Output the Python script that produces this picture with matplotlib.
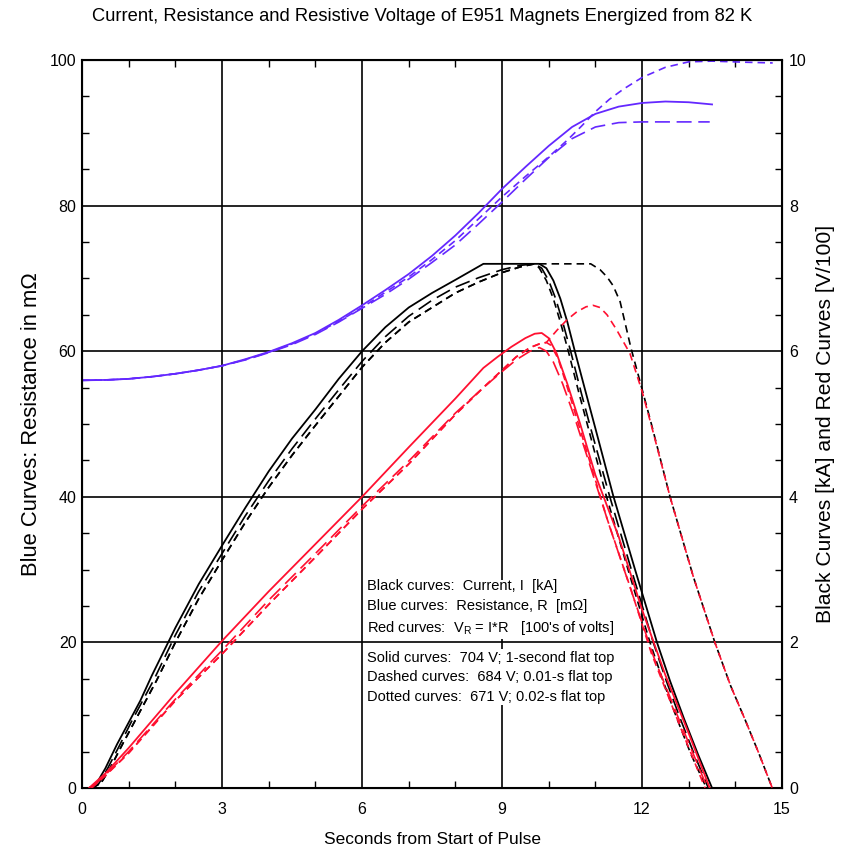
import matplotlib.pyplot as plt
from matplotlib.ticker import MultipleLocator

plt.rcParams['font.family'] = ['Liberation Sans', 'DejaVu Sans']
plt.rcParams['mathtext.fontset'] = 'custom'
plt.rcParams['mathtext.rm'] = 'Liberation Sans'

BLUE = '#6428ff'
RED = '#ff1030'

# ---- blue curves: resistance (mOhm), left axis ----
blue_solid_t = [0, 0.5, 1, 1.5, 2, 2.5, 3, 3.5, 4, 4.5, 5, 5.5, 6, 6.5, 7, 7.5, 8, 8.5, 9, 9.5,
                10, 10.5, 11, 11.5, 12, 12.5, 13, 13.5]
blue_solid_r = [56.0, 56.05, 56.2, 56.5, 56.9, 57.4, 58.0, 58.9, 59.9, 61.1, 62.5, 64.3, 66.3, 68.4,
                70.6, 73.1, 75.9, 79.0, 82.3, 85.3, 88.2, 90.8, 92.6, 93.6, 94.1, 94.3, 94.2, 93.9]

blue_dash_t = [0, 0.5, 1, 1.5, 2, 2.5, 3, 3.5, 4, 4.5, 5, 5.5, 6, 6.5, 7, 7.5, 8, 8.5, 9, 9.5,
               10, 10.5, 11, 11.5, 12, 12.5, 13, 13.45]
blue_dash_r = [56.0, 56.05, 56.2, 56.5, 56.9, 57.4, 58.0, 58.8, 59.8, 60.9, 62.3, 64.0, 65.9, 67.8,
               69.9, 72.2, 74.6, 77.5, 80.5, 83.6, 86.6, 89.2, 90.8, 91.4, 91.5, 91.5, 91.5, 91.5]

blue_dot_t = [0, 0.5, 1, 1.5, 2, 2.5, 3, 3.5, 4, 4.5, 5, 5.5, 6, 6.5, 7, 7.5, 8, 8.5, 9, 9.5,
              10, 10.4, 10.7, 11, 11.3, 11.6, 12, 12.5, 13, 13.5, 14.2, 14.8]
blue_dot_r = [56.0, 56.05, 56.2, 56.5, 56.9, 57.4, 58.0, 58.85, 59.85, 61.0, 62.4, 64.1, 66.0, 68.1,
              70.2, 72.6, 75.2, 78.2, 81.2, 84.0, 86.7, 89.0, 90.9, 92.9, 94.6, 96.0, 97.6, 99.0,
              99.75, 99.85, 99.7, 99.6]

# ---- black curves: current (kA), right axis ----
black_solid_t = [0.15, 0.3, 0.5, 0.75, 1, 1.25, 1.5, 2, 2.5, 3, 3.5, 4, 4.5, 5, 5.5, 6, 6.5, 7, 7.5,
                 8, 8.6, 9.8, 9.95, 10.1, 10.25, 10.4, 10.56, 10.8, 11.0, 11.38, 11.85, 12.32, 12.6,
                 12.9, 13.2, 13.5]
black_solid_i = [0, 0.05, 0.27, 0.6, 0.9, 1.2, 1.55, 2.2, 2.8, 3.33, 3.85, 4.35, 4.8, 5.2, 5.62, 6.0,
                 6.33, 6.6, 6.8, 6.98, 7.2, 7.2, 7.14, 6.97, 6.72, 6.4, 6.0, 5.42, 4.94, 4.02, 3.0,
                 2.0, 1.47, 0.95, 0.46, 0.0]

black_dash_t = [0.2, 0.35, 0.55, 0.8, 1.05, 1.3, 1.55, 2, 2.5, 3, 3.5, 4, 4.5, 5, 5.5, 6, 6.5, 7, 7.5,
                8, 8.5, 9, 9.4, 9.7, 9.85, 10.0, 10.15, 10.3, 10.47, 10.7, 10.9, 11.3, 11.77, 12.24,
                12.52, 12.82, 13.12, 13.42]
black_dash_i = [0, 0.05, 0.27, 0.58, 0.9, 1.2, 1.5, 2.1, 2.7, 3.22, 3.74, 4.22, 4.66, 5.07, 5.47, 5.86,
                6.2, 6.48, 6.7, 6.88, 7.01, 7.12, 7.18, 7.2, 7.14, 6.97, 6.72, 6.4, 6.0, 5.42, 4.94,
                4.02, 3.0, 2.0, 1.47, 0.95, 0.46, 0.0]

black_dot_rise_t = [0.2, 0.4, 0.6, 0.85, 1.1, 1.35, 1.6, 2, 2.5, 3, 3.5, 4, 4.5, 5, 5.5, 6, 6.5, 7,
                    7.5, 8, 8.5, 9, 9.4, 9.7]
black_dot_rise_i = [0, 0.06, 0.27, 0.58, 0.88, 1.18, 1.48, 2.0, 2.6, 3.13, 3.65, 4.13, 4.57, 4.98,
                    5.38, 5.78, 6.12, 6.4, 6.6, 6.8, 6.95, 7.08, 7.16, 7.2]
black_dot_fall_t = [9.8, 9.95, 10.1, 10.25, 10.42, 10.65, 10.85, 11.23, 11.7, 12.17, 12.45, 12.75,
                    13.05, 13.38]
black_dot_fall_i = [7.14, 6.97, 6.72, 6.4, 6.0, 5.42, 4.94, 4.02, 3.0, 2.0, 1.47, 0.95, 0.46, 0.0]
black_far_fall_t = [10.9, 11.1, 11.25, 11.38, 11.53, 11.76, 12.0, 12.2, 12.6, 13.1, 13.56, 13.9, 14.2,
                    14.5, 14.79]
black_far_fall_i = [7.2, 7.12, 7.02, 6.9, 6.68, 6.05, 5.48, 5.0, 4.0, 2.9, 2.0, 1.4, 0.95, 0.48, 0.0]

# ---- red curves: V_R = I*R (100's of volts), right axis ----
red_solid_t = [0.15, 0.5, 1, 2, 3, 4, 5, 6, 7, 8, 8.6, 8.9, 9.2, 9.5, 9.7, 9.85, 10.0, 10.17, 10.4,
               10.67, 11.0, 11.5, 12.0, 12.5, 13.0, 13.45]
red_solid_v = [0, 0.2, 0.55, 1.3, 2.02, 2.7, 3.35, 4.0, 4.68, 5.35, 5.77, 5.92, 6.06, 6.18, 6.24, 6.25,
               6.18, 5.97, 5.55, 5.01, 4.3, 3.45, 2.45, 1.55, 0.75, 0.0]

red_dash_t = [0.2, 0.5, 1, 2, 3, 4, 5, 6, 7, 8, 8.6, 9.0, 9.3, 9.6, 9.8, 9.95, 10.1, 10.3, 10.55,
              10.9, 11.3, 11.8, 12.25, 12.85, 13.4]
red_dash_v = [0, 0.18, 0.5, 1.22, 1.89, 2.58, 3.22, 3.87, 4.49, 5.15, 5.5, 5.72, 5.88, 6.0, 6.05, 6.0,
              5.85, 5.55, 5.1, 4.4, 3.6, 2.65, 1.8, 0.85, 0.0]

red_dot_rise_t = [0.2, 0.5, 1, 2, 3, 4, 5, 6, 7, 8, 8.6, 9.0, 9.3, 9.6, 9.8, 9.95]
red_dot_rise_v = [0, 0.17, 0.48, 1.2, 1.84, 2.52, 3.17, 3.83, 4.45, 5.13, 5.5, 5.74, 5.92, 6.05, 6.1,
                  6.12]
red_dot_fall_t = [10.05, 10.2, 10.4, 10.6, 10.85, 11.25, 11.75, 12.2, 12.8, 13.35]
red_dot_fall_v = [6.08, 5.9, 5.5, 5.08, 4.55, 3.7, 2.75, 1.85, 0.87, 0.0]
red_far_fall_t = [10.18, 10.39, 10.6, 10.8, 10.95, 11.1, 11.25, 11.45, 11.74, 12.0, 12.2, 12.6, 13.1,
                  13.56, 13.9, 14.2, 14.5, 14.79]
red_far_fall_v = [6.29, 6.43, 6.54, 6.61, 6.63, 6.6, 6.5, 6.3, 5.97, 5.45, 4.98, 4.0, 2.9, 2.0, 1.4,
                  0.95, 0.48, 0.0]

LONG = (9, 4)
SHORT = (4.5, 3)

fig = plt.figure(figsize=(8.44, 8.49), dpi=100)
ax = fig.add_axes([0.0972, 0.0719, 0.8294, 0.8574])
ax2 = ax.twinx()

ax.set_xlim(0, 15)
ax.set_ylim(0, 100)
ax2.set_ylim(0, 10)

ax.grid(True, which='major', color='black', lw=1.2, zorder=0)

# blue
ax.plot(blue_solid_t, blue_solid_r, color=BLUE, lw=1.3)
ax.plot(blue_dash_t, blue_dash_r, color=BLUE, lw=1.2, dashes=LONG)
ax.plot(blue_dot_t, blue_dot_r, color=BLUE, lw=1.2, dashes=SHORT)

# black
ax2.plot(black_solid_t, black_solid_i, color='black', lw=1.3)
ax2.plot(black_dash_t, black_dash_i, color='black', lw=1.2, dashes=LONG)
ax2.plot(black_dot_rise_t + black_dot_fall_t, black_dot_rise_i + black_dot_fall_i,
         color='black', lw=1.2, dashes=SHORT)
ax2.plot(black_dot_rise_t + black_far_fall_t, black_dot_rise_i + black_far_fall_i,
         color='black', lw=1.2, dashes=SHORT)

# red
ax2.plot(red_solid_t, red_solid_v, color=RED, lw=1.3)
ax2.plot(red_dash_t, red_dash_v, color=RED, lw=1.2, dashes=LONG)
ax2.plot(red_dot_rise_t + red_dot_fall_t, red_dot_rise_v + red_dot_fall_v,
         color=RED, lw=1.2, dashes=SHORT)
ax2.plot(red_dot_rise_t + red_far_fall_t, red_dot_rise_v + red_far_fall_v,
         color=RED, lw=1.2, dashes=SHORT)

# ticks
ax.set_xticks([0, 3, 6, 9, 12, 15])
ax.set_yticks([0, 20, 40, 60, 80, 100])
ax.xaxis.set_minor_locator(MultipleLocator(1))
ax.yaxis.set_minor_locator(MultipleLocator(5))
ax2.set_yticks([0, 2, 4, 6, 8, 10])
ax2.yaxis.set_minor_locator(MultipleLocator(0.5))
ax.tick_params(which='both', direction='in', top=True, labelsize=11.5, width=1)
ax.tick_params(which='major', length=0)
ax.tick_params(which='minor', length=5)
ax.tick_params(axis='x', pad=10)
ax.tick_params(axis='y', pad=4)
ax2.tick_params(which='both', direction='in', labelsize=11.5, width=1, pad=5)
ax2.tick_params(which='major', length=0)
ax2.tick_params(which='minor', length=5)

for sp in ax.spines.values():
    sp.set_linewidth(1.5)

ax.set_xlabel('Seconds from Start of Pulse', fontsize=12.5, labelpad=11)
ax.set_ylabel('Blue Curves: Resistance in m\u03a9', fontsize=15.8, labelpad=6)
ax2.set_ylabel('Black Curves [kA] and Red Curves [V/100]', fontsize=15.2, labelpad=7)
fig.suptitle('Current, Resistance and Resistive Voltage of E951 Magnets Energized from 82 K',
             fontsize=13.2, y=0.99)

box = dict(boxstyle='square,pad=0.1', facecolor='white', edgecolor='none')
ax2.text(6.1, 2.47,
         'Black curves:  Current, I  [kA]\n'
         'Blue curves:  Resistance, R  [m\u03a9]\n'
         'Red curves:  V$_\\mathregular{R}$ = I*R   [100\'s of volts]',
         fontsize=10.5, va='center', ha='left', linespacing=1.5, bbox=box, zorder=5)
ax2.text(6.1, 1.52,
         'Solid curves:  704 V; 1-second flat top\n'
         'Dashed curves:  684 V; 0.01-s flat top\n'
         'Dotted curves:  671 V; 0.02-s flat top',
         fontsize=10.5, va='center', ha='left', linespacing=1.5, bbox=box, zorder=5)

plt.savefig('out.png', dpi=100)
